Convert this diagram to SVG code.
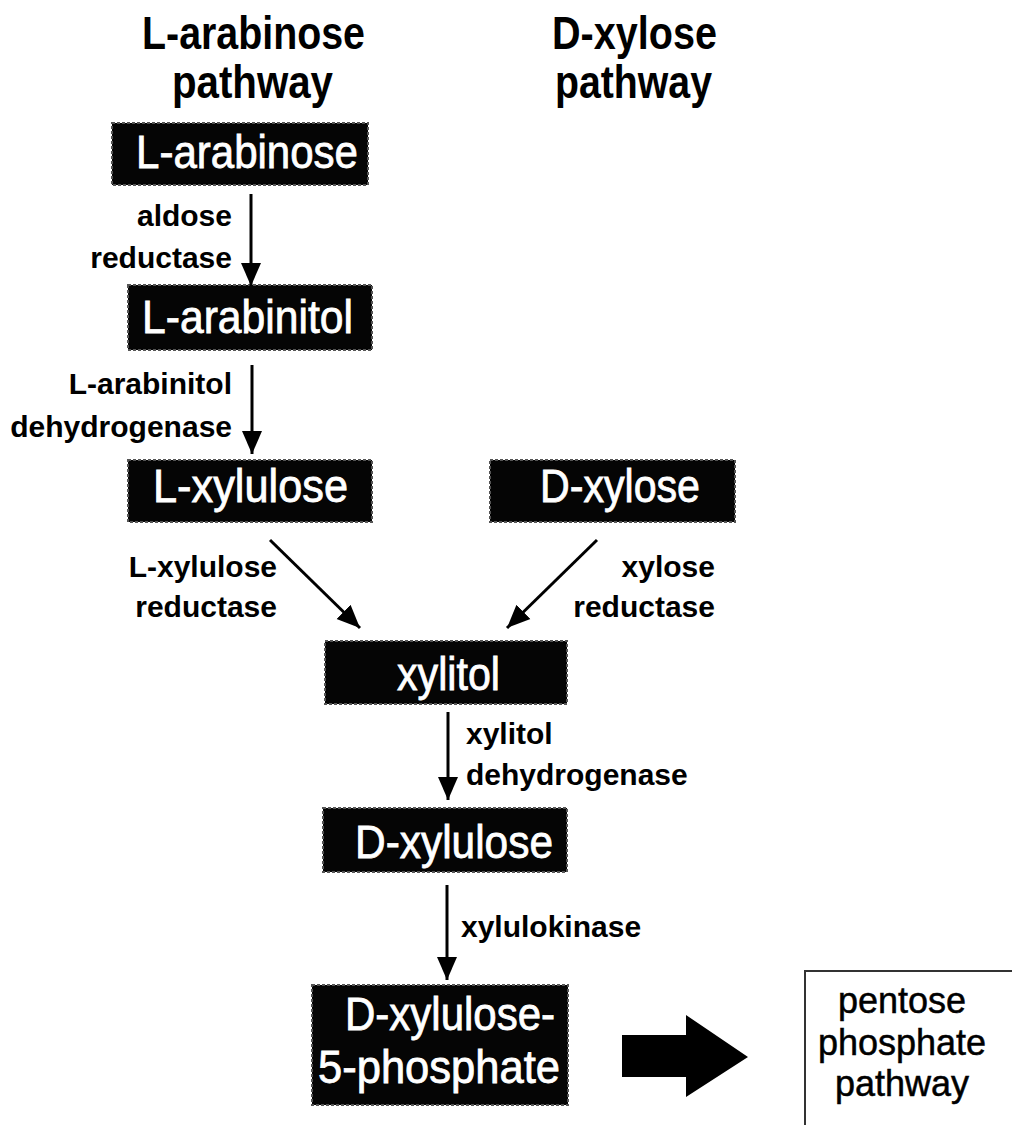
<svg xmlns="http://www.w3.org/2000/svg" width="1012" height="1125" viewBox="0 0 1012 1125">
<style>
.title{font-family:"Liberation Sans",Arial,sans-serif;font-weight:bold;font-size:47px;fill:#000}
.box{fill:#050505;stroke:#555;stroke-width:2;stroke-dasharray:3 2}
.bt{font-family:"Liberation Sans",Arial,sans-serif;font-size:46px;fill:#fff;stroke:#fff;stroke-width:0.8}
.lab{font-family:"Liberation Sans",Arial,sans-serif;font-weight:bold;font-size:30px;fill:#000}
.pp{font-family:"Liberation Sans",Arial,sans-serif;font-size:36px;fill:#000;stroke:#000;stroke-width:0.5}
.conn{stroke:#000;stroke-width:3;fill:none}
</style>
<defs>
<marker id="ah" markerUnits="userSpaceOnUse" markerWidth="26" markerHeight="26" viewBox="0 0 26 26" refX="23" refY="13" orient="auto">
<path d="M0,3 L23,13 L0,23 Z" fill="#000"/>
</marker>
</defs>
<g id="titles">
<text class="title" x="142" y="49" textLength="223" lengthAdjust="spacingAndGlyphs">L-arabinose</text>
<text class="title" x="172" y="98" textLength="161" lengthAdjust="spacingAndGlyphs">pathway</text>
<text class="title" x="552" y="49" textLength="165" lengthAdjust="spacingAndGlyphs">D-xylose</text>
<text class="title" x="555" y="98" textLength="157" lengthAdjust="spacingAndGlyphs">pathway</text>
</g>
<g id="n-larabinose"><rect class="box" x="112" y="123" width="256" height="62"/><text class="bt" x="136" y="168" textLength="222" lengthAdjust="spacingAndGlyphs">L-arabinose</text></g>
<g id="n-larabinitol"><rect class="box" x="128" y="285" width="244" height="65"/><text class="bt" x="142" y="333" textLength="211" lengthAdjust="spacingAndGlyphs">L-arabinitol</text></g>
<g id="n-lxylulose"><rect class="box" x="128" y="460" width="244" height="62"/><text class="bt" x="153" y="502" textLength="195" lengthAdjust="spacingAndGlyphs">L-xylulose</text></g>
<g id="n-dxylose"><rect class="box" x="490" y="460" width="245" height="62"/><text class="bt" x="540" y="502" textLength="160" lengthAdjust="spacingAndGlyphs">D-xylose</text></g>
<g id="n-xylitol"><rect class="box" x="325" y="641" width="242" height="63"/><text class="bt" x="397" y="690" textLength="103" lengthAdjust="spacingAndGlyphs">xylitol</text></g>
<g id="n-dxylulose"><rect class="box" x="323" y="808" width="244" height="64"/><text class="bt" x="355" y="858" textLength="198" lengthAdjust="spacingAndGlyphs">D-xylulose</text></g>
<g id="n-dx5p"><rect class="box" x="312" y="985" width="256" height="120"/><text class="bt" x="345" y="1030" textLength="210" lengthAdjust="spacingAndGlyphs">D-xylulose-</text><text class="bt" x="318" y="1083" textLength="242" lengthAdjust="spacingAndGlyphs">5-phosphate</text></g>
<g id="n-ppp"><path d="M805,1125 L805,971 L1012,971" fill="none" stroke="#333" stroke-width="2"/><text class="pp" x="902" y="1013" text-anchor="middle">pentose</text><text class="pp" x="902" y="1055" text-anchor="middle">phosphate</text><text class="pp" x="902" y="1096" text-anchor="middle">pathway</text></g>
<g id="connectors">
<line class="conn" x1="251" y1="194" x2="251" y2="286" marker-end="url(#ah)"/>
<line class="conn" x1="252" y1="365" x2="252" y2="454" marker-end="url(#ah)"/>
<line class="conn" x1="270" y1="540" x2="360" y2="628" marker-end="url(#ah)"/>
<line class="conn" x1="597" y1="540" x2="507" y2="628" marker-end="url(#ah)"/>
<line class="conn" x1="448" y1="712" x2="448" y2="800" marker-end="url(#ah)"/>
<line class="conn" x1="447" y1="885" x2="447" y2="980" marker-end="url(#ah)"/>
<path d="M622,1035 L686,1035 L686,1015 L748,1057 L686,1097 L686,1077 L622,1077 Z" fill="#000"/>
</g>
<g id="labels">
<text class="lab" x="232" y="226" text-anchor="end">aldose</text>
<text class="lab" x="232" y="268" text-anchor="end">reductase</text>
<text class="lab" x="232" y="394" text-anchor="end">L-arabinitol</text>
<text class="lab" x="232" y="437" text-anchor="end">dehydrogenase</text>
<text class="lab" x="277" y="577" text-anchor="end">L-xylulose</text>
<text class="lab" x="277" y="617" text-anchor="end">reductase</text>
<text class="lab" x="715" y="577" text-anchor="end">xylose</text>
<text class="lab" x="715" y="617" text-anchor="end">reductase</text>
<text class="lab" x="466" y="744">xylitol</text>
<text class="lab" x="466" y="785">dehydrogenase</text>
<text class="lab" x="461" y="937">xylulokinase</text>
</g>
</svg>
